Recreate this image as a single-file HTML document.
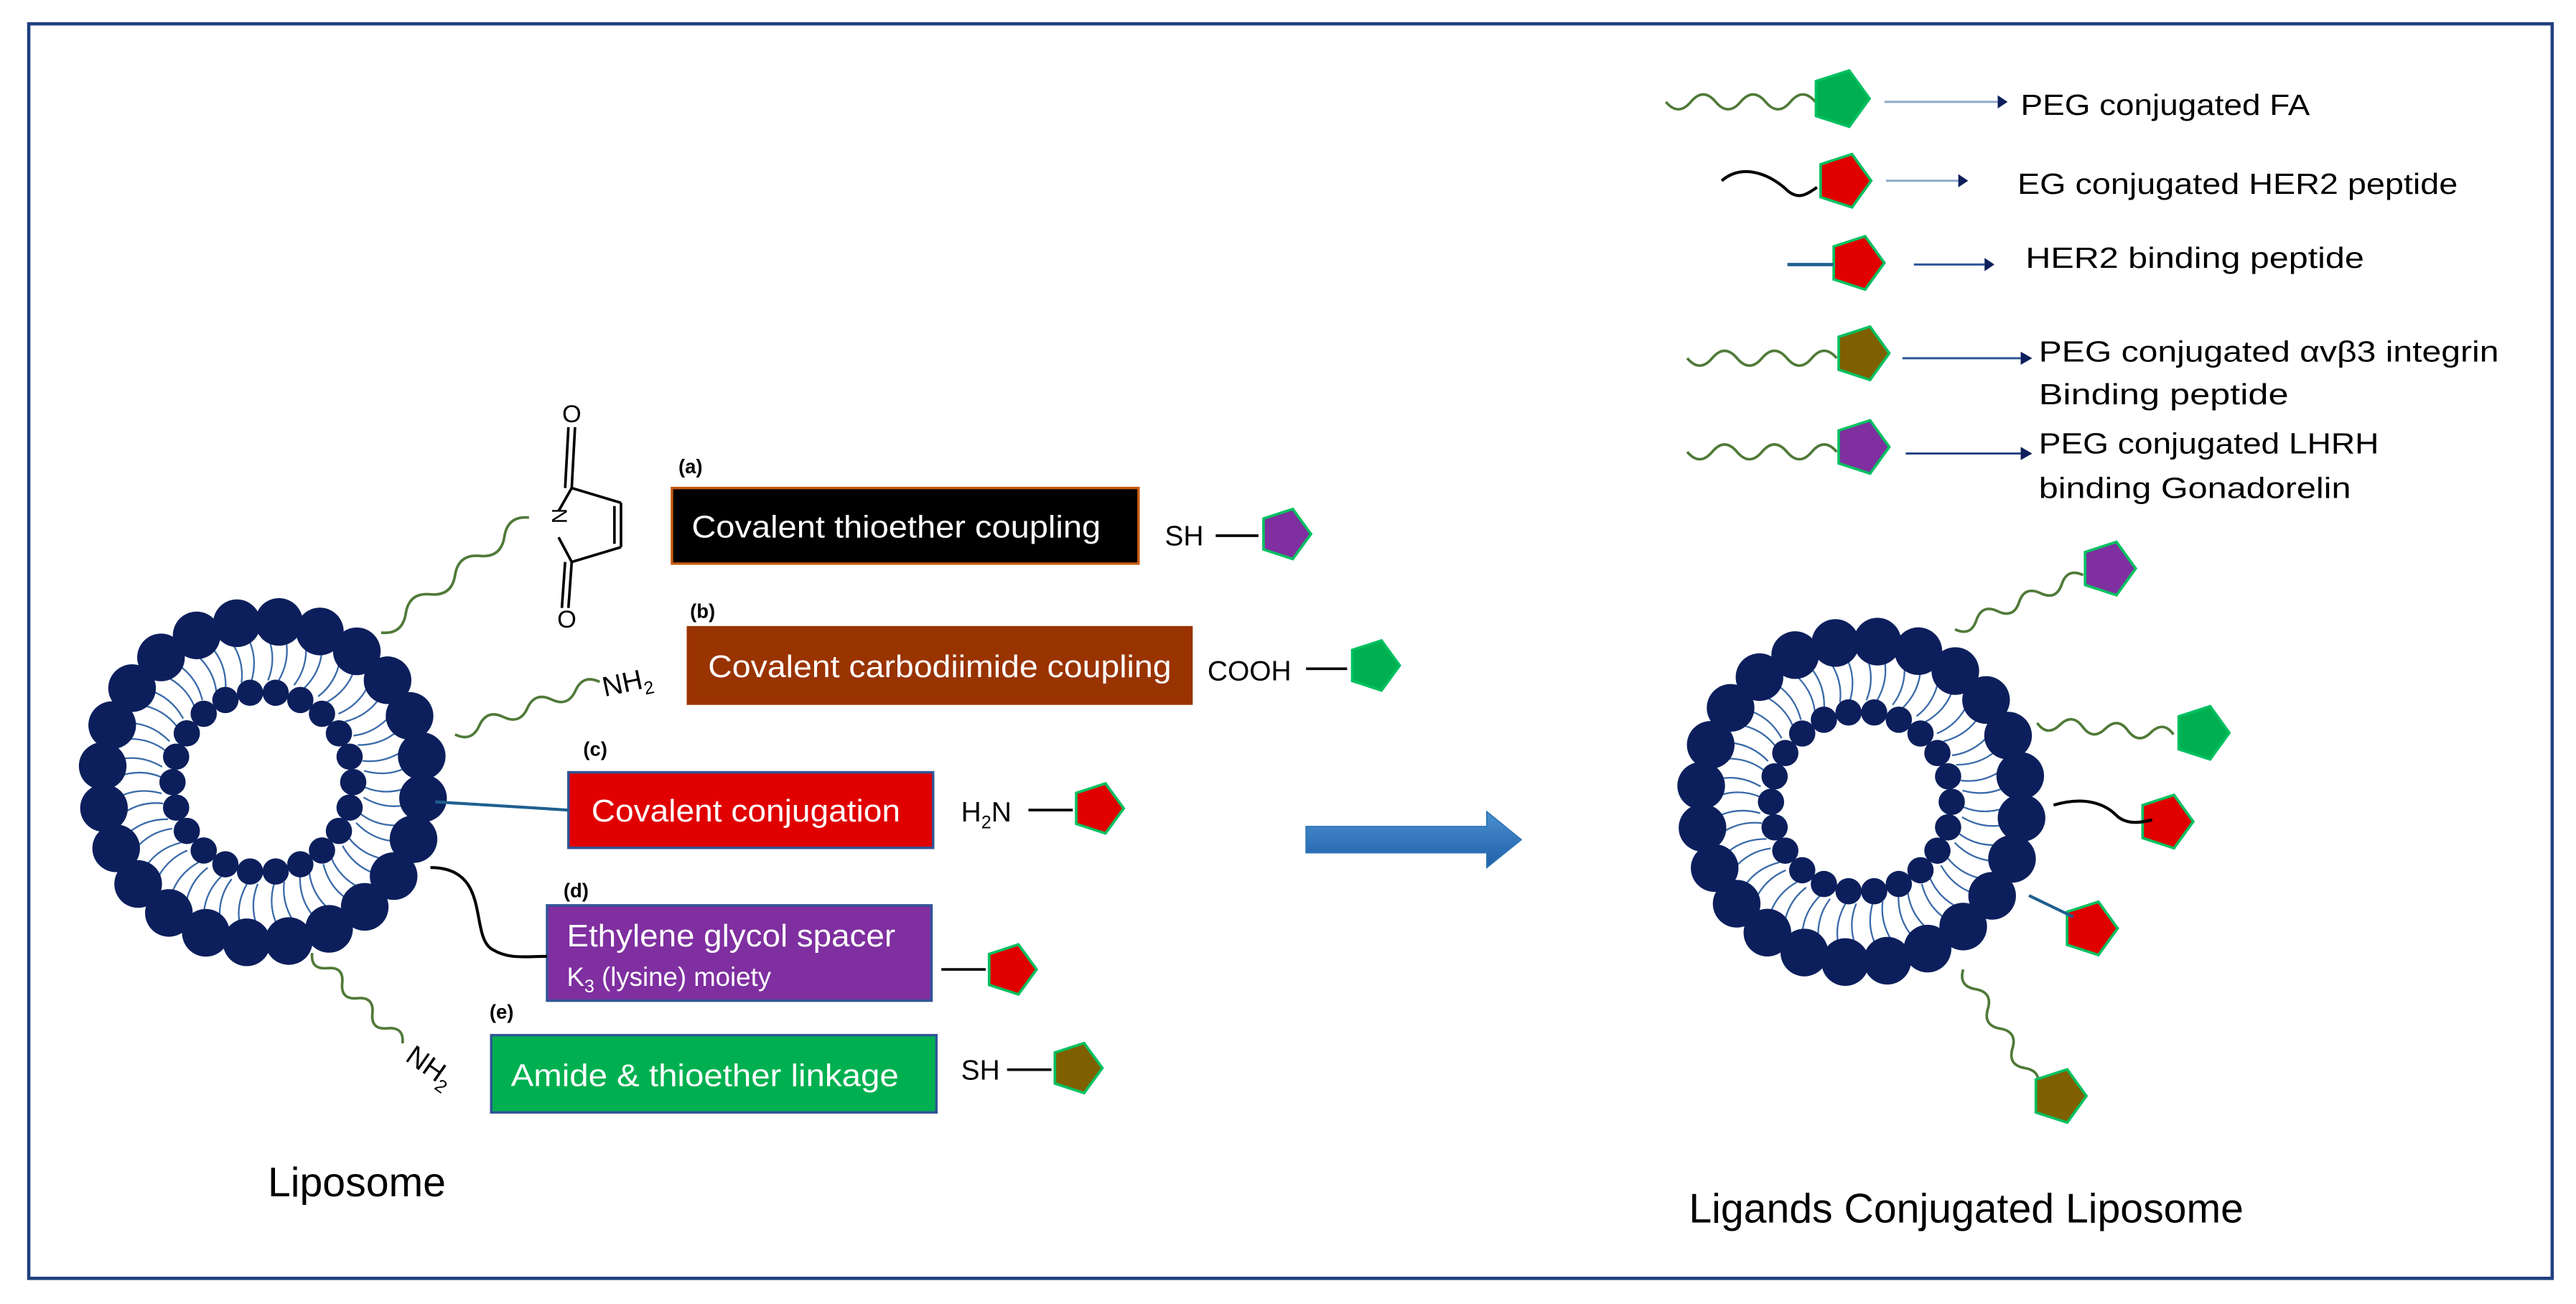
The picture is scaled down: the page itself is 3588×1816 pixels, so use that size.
<!DOCTYPE html>
<html><head><meta charset="utf-8"><style>
html,body{margin:0;padding:0;background:#fff;}
svg{display:block;}
text{font-family:"Liberation Sans",sans-serif;}
</style></head><body>
<svg id="s" width="3588" height="1816" viewBox="0 0 1568 793.6" preserveAspectRatio="none" xmlns="http://www.w3.org/2000/svg">
<rect x="17.5" y="14.5" width="1536" height="763.5" fill="#fff" stroke="#1f3f7f" stroke-width="2"/>
<g id="g"></g>
<!-- maleimide -->
<g stroke="#000" stroke-width="1.6" fill="none">
<line x1="340" y1="311" x2="348" y2="297"/>
<line x1="348" y1="297" x2="378" y2="306"/>
<line x1="378" y1="306" x2="378" y2="333"/>
<line x1="374" y1="308" x2="374" y2="331"/>
<line x1="378" y1="333" x2="348" y2="342"/>
<line x1="348" y1="342" x2="340" y2="327"/>
<line x1="348" y1="297" x2="350" y2="260"/><line x1="344" y1="297" x2="346" y2="260"/>
<line x1="348" y1="342" x2="346" y2="370"/><line x1="344" y1="342" x2="342" y2="370"/>
</g>
<text x="348" y="257" font-size="15" text-anchor="middle">O</text>
<text x="345" y="382" font-size="15" text-anchor="middle">O</text>
<text x="333" y="319" font-size="13" transform="rotate(90 337 318)" text-anchor="middle">N</text>
<!-- boxes -->
<g font-weight="bold" font-size="12">
<text x="413" y="288">(a)</text>
<text x="420" y="376">(b)</text>
<text x="355" y="460">(c)</text>
<text x="343" y="546">(d)</text>
<text x="298" y="620">(e)</text>
</g>
<g font-size="19" fill="#fff" lengthAdjust="spacingAndGlyphs">
<rect x="409" y="297" width="284" height="46" fill="#000" stroke="#c55a11" stroke-width="1.5"/>
<text x="421" y="327" textLength="249" lengthAdjust="spacingAndGlyphs">Covalent thioether coupling</text>
<rect x="418" y="381" width="308" height="48" fill="#993300"/>
<text x="431" y="412" textLength="282" lengthAdjust="spacingAndGlyphs">Covalent carbodiimide coupling</text>
<rect x="346" y="470" width="222" height="46" fill="#e00000" stroke="#2f5597" stroke-width="1.5"/>
<text x="360" y="500" textLength="188" lengthAdjust="spacingAndGlyphs">Covalent conjugation</text>
<rect x="333" y="551" width="234" height="58" fill="#7f2fa0" stroke="#2f5597" stroke-width="1.5"/>
<text x="345" y="576" textLength="200" lengthAdjust="spacingAndGlyphs">Ethylene glycol spacer</text>
<text x="345" y="600" font-size="16">K<tspan font-size="11" dy="4">3</tspan><tspan dy="-4"> (lysine) moiety</tspan></text>
<rect x="299" y="630" width="271" height="47" fill="#00b050" stroke="#2f5597" stroke-width="1.5"/>
<text x="311" y="661" textLength="236" lengthAdjust="spacingAndGlyphs">Amide &amp; thioether linkage</text>
</g>
<text x="709" y="332" font-size="17">SH</text>
<text x="735" y="414" font-size="17">COOH</text>
<text x="585" y="500" font-size="17">H<tspan font-size="11" dy="4">2</tspan><tspan dy="-4">N</tspan></text>
<text x="585" y="657" font-size="17">SH</text>
<text x="368" y="424" font-size="17" transform="rotate(-12 368 424)">NH<tspan font-size="11" dy="4">2</tspan></text>
<text x="246" y="645" font-size="17" transform="rotate(35 246 645)">NH<tspan font-size="11" dy="4">2</tspan></text>
<g stroke="#000" stroke-width="1.6">
<line x1="740" y1="326" x2="766" y2="326"/>
<line x1="795" y1="407" x2="820" y2="407"/>
<line x1="626" y1="493" x2="653" y2="493"/>
<line x1="573" y1="590" x2="600" y2="590"/>
<line x1="613" y1="651" x2="640" y2="651"/>
</g>
<line x1="265" y1="488" x2="346" y2="493" stroke="#1f5f8f" stroke-width="1.8"/>
<path d="M262 528 C300 528 285 570 300 578 C310 584 320 582 333 582" stroke="#000" stroke-width="1.8" fill="none"/>
<text x="163" y="728" font-size="25">Liposome</text>
<text x="1028" y="744" font-size="25">Ligands Conjugated Liposome</text>
<!-- big arrow -->
<defs><linearGradient id="bg" x1="0" y1="0" x2="0" y2="1"><stop offset="0" stop-color="#4a90d0"/><stop offset="1" stop-color="#2060a8"/></linearGradient></defs>
<polygon points="795,503 905,503 905,494 926,511 905,528 905,519 795,519" fill="url(#bg)" stroke="#2e75b6" stroke-width="0.8"/>
<!-- legend -->
<g stroke-width="1.3" fill="none">
<line x1="1147" y1="62" x2="1216" y2="62" stroke="#8fa9c9"/>
<line x1="1148" y1="110" x2="1192" y2="110" stroke="#8fa9c9"/>
<line x1="1165" y1="161" x2="1208" y2="161" stroke="#2f5597"/>
<line x1="1158" y1="218" x2="1230" y2="218" stroke="#2f5597"/>
<line x1="1160" y1="276" x2="1230" y2="276" stroke="#1f3f7f"/>
</g>
<g fill="#0c1f5c">
<polygon points="1216,58 1222,62 1216,66"/>
<polygon points="1192,106 1198,110 1192,114"/>
<polygon points="1208,157 1214,161 1208,165"/>
<polygon points="1230,214 1237,218 1230,222"/>
<polygon points="1230,272 1237,276 1230,280"/>
</g>
<g font-size="18">
<text x="1230" y="70" textLength="176" lengthAdjust="spacingAndGlyphs">PEG conjugated FA</text>
<text x="1228" y="118" textLength="268" lengthAdjust="spacingAndGlyphs">EG conjugated HER2 peptide</text>
<text x="1233" y="163" textLength="206" lengthAdjust="spacingAndGlyphs">HER2 binding peptide</text>
<text x="1241" y="220" textLength="280" lengthAdjust="spacingAndGlyphs">PEG conjugated αvβ3 integrin</text>
<text x="1241" y="246" textLength="152" lengthAdjust="spacingAndGlyphs">Binding peptide</text>
<text x="1241" y="276" textLength="207" lengthAdjust="spacingAndGlyphs">PEG conjugated LHRH</text>
<text x="1241" y="303" textLength="190" lengthAdjust="spacingAndGlyphs">binding Gonadorelin</text>
</g>
<path d="M1048 110 C1062 98 1080 108 1088 116 C1095 122 1100 118 1106 114" stroke="#000" stroke-width="1.8" fill="none"/>
<line x1="1088" y1="161" x2="1116" y2="161" stroke="#1f5f8f" stroke-width="2"/>
<path d="M1250 490 C1270 484 1282 490 1288 496 C1295 503 1305 500 1310 499" stroke="#000" stroke-width="1.8" fill="none"/>
<line x1="1235" y1="545" x2="1262" y2="558" stroke="#1f5f8f" stroke-width="1.8"/>
</svg>
<script>
var g=document.getElementById("g"),out="";
function sq(x1,y1,x2,y2,n,a,col,w){var dx=x2-x1,dy=y2-y1,L=Math.hypot(dx,dy),ux=dx/L,uy=dy/L,px=-uy,py=ux,d="M"+x1+" "+y1;
for(var i=1;i<=2*n;i++){var t=i/(2*n),s=(i%2?1:-1)*a,tm=(i-0.5)/(2*n);
var cx=x1+dx*tm+px*s,cy=y1+dy*tm+py*s;d+=" Q"+cx.toFixed(1)+" "+cy.toFixed(1)+" "+(x1+dx*t).toFixed(1)+" "+(y1+dy*t).toFixed(1);}
out+='<path d="'+d+'" stroke="'+(col||"#4f7a38")+'" stroke-width="'+(w||1.6)+'" fill="none"/>';}
function pent(cx,cy,r,fill){var p=[];for(var i=0;i<5;i++){var a=i*2*Math.PI/5;p.push((cx+r*Math.cos(a)).toFixed(1)+","+(cy+r*Math.sin(a)).toFixed(1));}
out+='<polygon points="'+p.join(" ")+'" fill="'+fill+'" stroke="#00c060" stroke-width="1.6"/>';}
function lipo(cx,cy){var N=24,n2=22;
for(var i=0;i<N;i++){var a=i*2*Math.PI/N+0.1;for(var k=-1;k<=1;k+=2){var b=a+k*0.06;
var x1=cx+88*Math.cos(b),y1=cy+88*Math.sin(b),x2=cx+62*Math.cos(a+k*0.05),y2=cy+62*Math.sin(a+k*0.05);
var mx=(x1+x2)/2+5*Math.cos(a+1.57),my=(y1+y2)/2+5*Math.sin(a+1.57);
out+='<path d="M'+x1.toFixed(1)+' '+y1.toFixed(1)+' Q'+mx.toFixed(1)+' '+my.toFixed(1)+' '+x2.toFixed(1)+' '+y2.toFixed(1)+'" stroke="#3a6aa8" stroke-width="1" fill="none"/>';}}
for(var i=0;i<N;i++){var a=i*2*Math.PI/N+0.1;out+='<circle cx="'+(cx+98*Math.cos(a)).toFixed(1)+'" cy="'+(cy+98*Math.sin(a)).toFixed(1)+'" r="14.5" fill="#0c1f5c"/>';}
for(var i=0;i<n2;i++){var a=i*2*Math.PI/n2;out+='<circle cx="'+(cx+55*Math.cos(a)).toFixed(1)+'" cy="'+(cy+55*Math.sin(a)).toFixed(1)+'" r="8" fill="#0c1f5c"/>';}}
lipo(160,476);lipo(1133,488);
sq(232,385,322,315,3,9);sq(277,447,365,415,3,8);sq(190,580,245,635,3,8);
sq(1190,383,1268,350,3,8);sq(1240,440,1323,447,3,8);sq(1195,590,1240,662,3,8);
sq(1014,62,1105,62,3,9);sq(1027,218,1118,218,3,9);sq(1027,275,1118,275,3,9);
pent(782,325,16,"#7f2fa0");pent(836,405,16,"#00b050");pent(668,492,16,"#e00000");pent(615,590,16,"#e00000");pent(655,650,16,"#7f6000");
pent(1120,60,18,"#00b050");pent(1122,110,17,"#e00000");pent(1130,160,17,"#e00000");pent(1133,215,17,"#7f6000");pent(1133,272,17,"#7f2fa0");
pent(1283,346,17,"#7f2fa0");pent(1340,446,17,"#00b050");pent(1318,500,17,"#e00000");pent(1272,565,17,"#e00000");pent(1253,667,17,"#7f6000");
g.innerHTML=out;
</script>
</body></html>
